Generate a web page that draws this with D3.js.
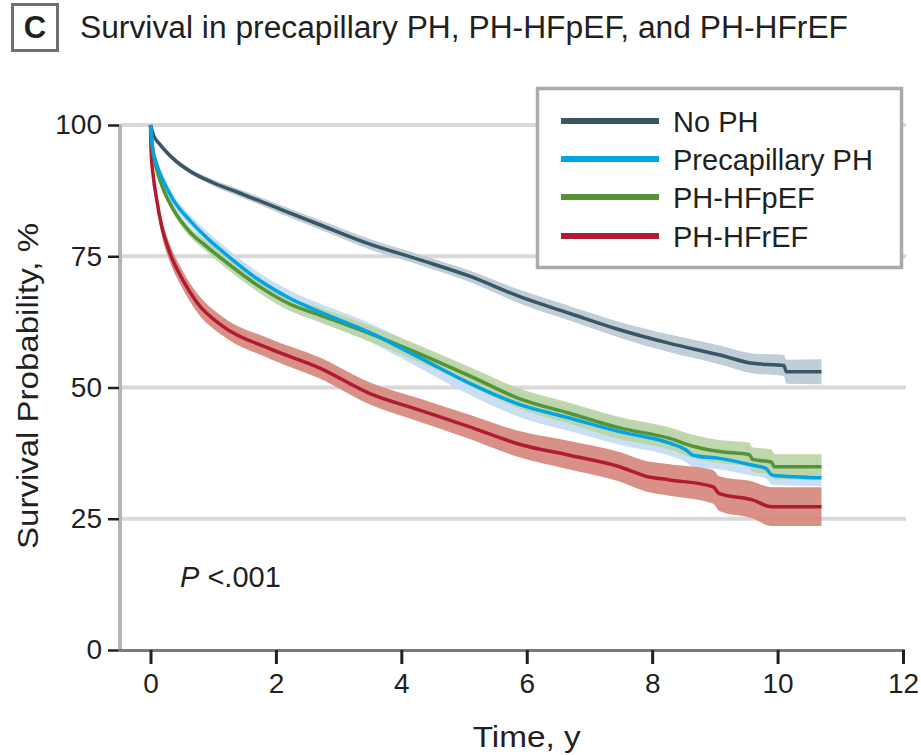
<!DOCTYPE html>
<html>
<head>
<meta charset="utf-8">
<script src="https://cdn.jsdelivr.net/npm/d3@7"></script>
<style>
  body { margin: 0; background: #fff; }
  svg text { font-family: "Liberation Sans", Arial, sans-serif; fill: #231f20; }
</style>
</head>
<body>
<svg id="chart" width="921" height="755"></svg>
<script>
/*********************
	Data
**********************/
var xTicks = [0, 2, 4, 6, 8, 10, 12];
var yTicks = [0, 25, 50, 75, 100];
var gridValues = [25, 50, 75, 100];

var groupNames = ["No PH", "Precapillary PH", "PH-HFpEF", "PH-HFrEF"];

// time in years, survival %, half width of the confidence band %
var noPhTime = [0, 0.05, 0.15, 0.37, 0.63, 1.0, 1.43, 2.0, 2.7, 3.5, 4.3, 5.09, 5.89, 6.69, 7.48, 8.28, 9.08, 9.6, 10.1, 10.14, 10.7];
var noPhSurv = [100, 98, 96.3, 93.5, 91.2, 89, 87, 84.3, 81, 77.3, 74.3, 71.2, 67.3, 64.1, 61, 58.4, 56.2, 54.6, 54.2, 53, 53];
var noPhCi   = [0, 0.3, 0.4, 0.5, 0.5, 0.6, 0.7, 0.8, 0.9, 1.0, 1.0, 1.1, 1.3, 1.4, 1.5, 1.7, 1.8, 1.9, 2.0, 2.3, 2.4];

var precapTime = [0, 0.03, 0.1, 0.18, 0.36, 0.63, 0.9, 1.16, 1.69, 2.22, 2.7, 3.49, 4.29, 5.09, 5.88, 6.68, 7.48, 8.28, 8.54, 8.65, 9.07, 9.6, 9.81, 9.92, 10.7];
var precapSurv = [100, 96, 92.5, 90, 85.8, 81.8, 78.5, 75.8, 70.8, 67, 64.4, 60.5, 55.7, 50.8, 46.8, 44.2, 41.6, 39.4, 38.1, 37.1, 36.5, 35.2, 34.6, 33.3, 32.8];
var precapCi   = [0, 0.5, 0.8, 0.9, 1.0, 1.1, 1.2, 1.3, 1.4, 1.5, 1.6, 1.8, 2.0, 2.2, 2.4, 2.5, 2.5, 2.4, 2.3, 2.2, 2.1, 2.0, 1.9, 1.8, 1.6];

var hfpefTime = [0, 0.03, 0.1, 0.18, 0.36, 0.63, 0.9, 1.16, 1.69, 2.22, 2.7, 3.49, 4.29, 5.09, 5.88, 6.68, 7.48, 8.28, 8.65, 9.07, 9.55, 9.6, 9.9, 9.95, 10.7];
var hfpefSurv = [100, 96, 91.5, 88.5, 84, 79.6, 76.8, 74.3, 69.6, 65.9, 63.8, 60.3, 56.4, 52.2, 47.9, 45.1, 42.3, 40.3, 38.8, 37.8, 37.2, 36.3, 35.8, 34.9, 34.9];
var hfpefCi   = [0, 0.4, 0.6, 0.7, 0.8, 0.9, 1.0, 1.1, 1.2, 1.3, 1.4, 1.5, 1.6, 1.7, 1.9, 2.0, 2.1, 2.1, 2.2, 2.2, 2.3, 2.3, 2.4, 2.4, 2.4];

var hfrefTime = [0, 0.01, 0.045, 0.1, 0.18, 0.31, 0.5, 0.74, 1.16, 1.9, 2.7, 3.49, 4.29, 5.09, 5.88, 6.68, 7.48, 7.9, 8.28, 8.97, 9.07, 9.6, 9.9, 10.7];
var hfrefSurv = [100, 95, 90.2, 85.7, 80.6, 75.6, 70.8, 66.2, 61.6, 57.4, 53.7, 48.9, 45.7, 42.5, 39.2, 37.1, 34.9, 33.1, 32.4, 31.1, 29.8, 28.6, 27.3, 27.3];
var hfrefCi   = [0, 1.0, 1.3, 1.5, 1.6, 1.7, 1.7, 1.8, 1.8, 1.9, 2.0, 2.1, 2.2, 2.3, 2.5, 2.7, 2.8, 2.9, 3.0, 3.2, 3.3, 3.5, 3.7, 3.7];

var lineColors = ["#3a5664", "#00a5e6", "#559337", "#b01b32"];
var bandColors = ["#b9c9d4", "#c4dbf2", "#b9d4a4", "#d4847a"];


/*********************
	Helpers
**********************/
function makeSeries(times, surv, ci){
	return times.map(function(t, i){ return {t: t, s: surv[i], ci: ci[i]}; });
}

var series = [
	makeSeries(noPhTime, noPhSurv, noPhCi),
	makeSeries(precapTime, precapSurv, precapCi),
	makeSeries(hfpefTime, hfpefSurv, hfpefCi),
	makeSeries(hfrefTime, hfrefSurv, hfrefCi)
];

var svg = d3.select("#chart");

var x = d3.scaleLinear().domain([0, 12]).range([150.5, 903]);
var y = d3.scaleLinear().domain([0, 100]).range([650, 125]);


/*********************
	Title
**********************/
svg.append("rect")
	.attr("x", 12.5).attr("y", 4.5).attr("width", 45).attr("height", 46)
	.attr("fill", "none").attr("stroke", "#707070").attr("stroke-width", 3);

svg.append("text")
	.attr("x", 35).attr("y", 38)
	.attr("text-anchor", "middle")
	.style("font-size", "31px").style("font-weight", "bold")
	.text("C");

svg.append("text")
	.attr("x", 80).attr("y", 38)
	.attr("textLength", 768).attr("lengthAdjust", "spacingAndGlyphs")
	.style("font-size", "31px")
	.text("Survival in precapillary PH, PH-HFpEF, and PH-HFrEF");


/*********************
	Grid and axes
**********************/
svg.append("g").selectAll("line")
	.data(gridValues)
	.join("line")
	.attr("x1", 121).attr("x2", 906)
	.attr("y1", function(d){ return y(d); })
	.attr("y2", function(d){ return y(d); })
	.attr("stroke", "#d9d9d9").attr("stroke-width", 4);

// y axis: light vertical bar plus dark ticks
svg.append("line")
	.attr("x1", 120).attr("x2", 120).attr("y1", y(100) - 1).attr("y2", 651)
	.attr("stroke", "#b5b5b5").attr("stroke-width", 4);

var yAxis = svg.append("g")
	.attr("transform", "translate(119,0)")
	.call(d3.axisLeft(y).tickValues(yTicks).tickSize(11).tickPadding(6));
yAxis.select(".domain").remove();
yAxis.selectAll(".tick line").attr("stroke", "#231f20").attr("stroke-width", 2.5);
yAxis.selectAll(".tick text")
	.style("font-size", "28px").style("font-family", "Liberation Sans, Arial, sans-serif")
	.attr("fill", "#231f20");

// x axis
svg.append("line")
	.attr("x1", 118).attr("x2", 905).attr("y1", 650.5).attr("y2", 650.5)
	.attr("stroke", "#7a7a7a").attr("stroke-width", 3);

var xAxis = svg.append("g")
	.attr("transform", "translate(0,650)")
	.call(d3.axisBottom(x).tickValues(xTicks).tickSize(14).tickPadding(9));
xAxis.select(".domain").remove();
xAxis.selectAll(".tick line").attr("stroke", "#231f20").attr("stroke-width", 3);
xAxis.selectAll(".tick text")
	.style("font-size", "28px").style("font-family", "Liberation Sans, Arial, sans-serif")
	.attr("fill", "#231f20");

svg.append("text")
	.attr("x", x(6)).attr("y", 747)
	.attr("text-anchor", "middle")
	.attr("textLength", 108).attr("lengthAdjust", "spacingAndGlyphs")
	.style("font-size", "30px")
	.text("Time, y");

svg.append("text")
	.attr("transform", "translate(38," + 386 + ") rotate(-90)")
	.attr("text-anchor", "middle")
	.attr("textLength", 326).attr("lengthAdjust", "spacingAndGlyphs")
	.style("font-size", "30px")
	.text("Survival Probability, %");


/*********************
	Curves
**********************/
var band = d3.area()
	.curve(d3.curveMonotoneX)
	.x(function(d){ return x(d.t); })
	.y0(function(d){ return y(d.s - d.ci); })
	.y1(function(d){ return y(Math.min(100, d.s + d.ci)); });

var line = d3.line()
	.curve(d3.curveMonotoneX)
	.x(function(d){ return x(d.t); })
	.y(function(d){ return y(d.s); });

// bands: precap under green, red and no PH on top
var bandOrder = [1, 2, 3, 0];
svg.append("g").selectAll("path")
	.data(bandOrder)
	.join("path")
	.attr("d", function(i){ return band(series[i]); })
	.attr("fill", function(i){ return bandColors[i]; })
	.attr("fill-opacity", 0.9);

var lineOrder = [0, 3, 2, 1];
svg.append("g").selectAll("path")
	.data(lineOrder)
	.join("path")
	.attr("d", function(i){ return line(series[i]); })
	.attr("fill", "none")
	.attr("stroke", function(i){ return lineColors[i]; })
	.attr("stroke-width", 3.5)
	.attr("stroke-linejoin", "round");


/*********************
	Legend
**********************/
var legend = svg.append("g");
legend.append("rect")
	.attr("x", 537.5).attr("y", 88.5).attr("width", 364).attr("height", 179)
	.attr("fill", "#fff").attr("stroke", "#ababab").attr("stroke-width", 3.5);

var legendY = [121, 159, 197, 236];
groupNames.forEach(function(name, i){
	legend.append("line")
		.attr("x1", 561).attr("x2", 659)
		.attr("y1", legendY[i]).attr("y2", legendY[i])
		.attr("stroke", lineColors[i]).attr("stroke-width", 6);
	legend.append("text")
		.attr("x", 673).attr("y", legendY[i] + 11)
		.style("font-size", "29px")
		.text(name);
});


/*********************
	P value
**********************/
var pText = svg.append("text")
	.attr("x", 180).attr("y", 587)
	.style("font-size", "29px");
pText.append("tspan").style("font-style", "italic").text("P");
pText.append("tspan").text(" <.001");
</script>
</body>
</html>
